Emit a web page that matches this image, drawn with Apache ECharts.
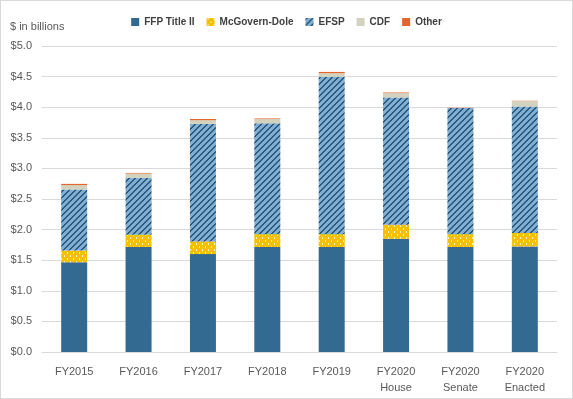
<!DOCTYPE html>
<html>
<head>
    <meta charset="UTF-8">
    <title></title>
    <script type="text/javascript" src="https://cdn.jsdelivr.net/npm/echarts@6/dist/echarts.min.js"></script>
    <style>
        body { margin: 0; background: #fff; }
        #show { position: relative; width: 573px; height: 399px; }
        #chart { position: absolute; left: 0; top: 0; width: 573px; height: 399px; }
        #frame { position: absolute; left: 0; top: 0; width: 571px; height: 397px; border: 1px solid #d9d9d9; pointer-events: none; }
    </style>
</head>
<body>
<div id="show">
    <div id="chart"></div>
    <div id="frame"></div>
</div>
<script>
    var categories = ['FY2015', 'FY2016', 'FY2017', 'FY2018', 'FY2019', 'FY2020\nHouse', 'FY2020\nSenate', 'FY2020\nEnacted'];
    var ffpTitle2 = [1.466, 1.716, 1.60, 1.716, 1.716, 1.85, 1.716, 1.725];
    var mcgovernDole = [0.191, 0.20, 0.207, 0.21, 0.21, 0.23, 0.21, 0.22];
    var efsp = [1.0, 0.93, 1.92, 1.81, 2.57, 2.08, 2.06, 2.065];
    var cdf = [0.07, 0.07, 0.06, 0.07, 0.06, 0.07, 0.0, 0.09];
    var other = [0.02, 0.01, 0.02, 0.01, 0.02, 0.01, 0.005, 0.005];
    var yTicks = [0, 0.5, 1, 1.5, 2, 2.5, 3, 3.5, 4, 4.5, 5];

    // stripes for EFSP
    function stripes() {
        var c = document.createElement('canvas');
        c.width = 6; c.height = 6;
        var ctx = c.getContext('2d');
        ctx.fillStyle = '#7eaed4';
        ctx.fillRect(0, 0, 6, 6);
        ctx.fillStyle = '#2c587a';
        for (var x = 0; x < 6; x++) {
            for (var y = 0; y < 6; y++) {
                if ((x + y) % 6 < 2) ctx.fillRect(x, y, 1, 1);
            }
        }
        return c;
    }

    // little white dashes on yellow
    function dots() {
        var c = document.createElement('canvas');
        c.width = 6; c.height = 6;
        var ctx = c.getContext('2d');
        ctx.fillStyle = '#f4c000';
        ctx.fillRect(0, 0, 6, 6);
        ctx.fillStyle = 'rgba(255,255,255,0.75)';
        ctx.fillRect(1, 0, 1, 2);
        ctx.fillRect(4, 3, 1, 2);
        return c;
    }

    var txt = '#595959';
    var font = 'Liberation Sans';

    var myChart = echarts.init(document.getElementById('chart'));
    myChart.setOption({
        animation: false,
        textStyle: { fontFamily: font },
        graphic: [{
            type: 'text',
            left: 10,
            top: 21,
            style: { text: '$ in billions', fill: txt, font: '11px ' + font }
        }],
        legend: {
            top: 12,
            left: 'center',
            itemWidth: 8,
            itemHeight: 8,
            itemGap: 12,
            icon: 'rect',
            textStyle: { color: '#404040', fontSize: 10, fontWeight: 'bold', fontFamily: font },
            data: ['FFP Title II', 'McGovern-Dole', 'EFSP', 'CDF', 'Other']
        },
        grid: { left: 42, right: 16, top: 46, bottom: 47 },
        xAxis: {
            type: 'category',
            data: categories,
            axisLine: { lineStyle: { color: '#d9d9d9' } },
            axisTick: { show: false },
            axisLabel: { color: txt, fontSize: 11, margin: 12, lineHeight: 16, interval: 0 }
        },
        yAxis: {
            type: 'value',
            min: yTicks[0],
            max: yTicks[yTicks.length - 1],
            interval: 0.5,
            axisLabel: {
                color: txt, fontSize: 11, margin: 10,
                formatter: function (v) { return '$' + v.toFixed(1); }
            },
            splitLine: { lineStyle: { color: '#d9d9d9' } }
        },
        series: [
            { name: 'FFP Title II', type: 'bar', stack: 'a', barWidth: 26, data: ffpTitle2, itemStyle: { color: '#336a92' } },
            { name: 'McGovern-Dole', type: 'bar', stack: 'a', data: mcgovernDole, itemStyle: { color: { image: dots(), repeat: 'repeat' } } },
            { name: 'EFSP', type: 'bar', stack: 'a', data: efsp, itemStyle: { color: { image: stripes(), repeat: 'repeat' } } },
            { name: 'CDF', type: 'bar', stack: 'a', data: cdf, itemStyle: { color: '#d3d2bf' } },
            { name: 'Other', type: 'bar', stack: 'a', data: other, itemStyle: { color: '#e4662c' } }
        ]
    });
</script>
</body>
</html>
